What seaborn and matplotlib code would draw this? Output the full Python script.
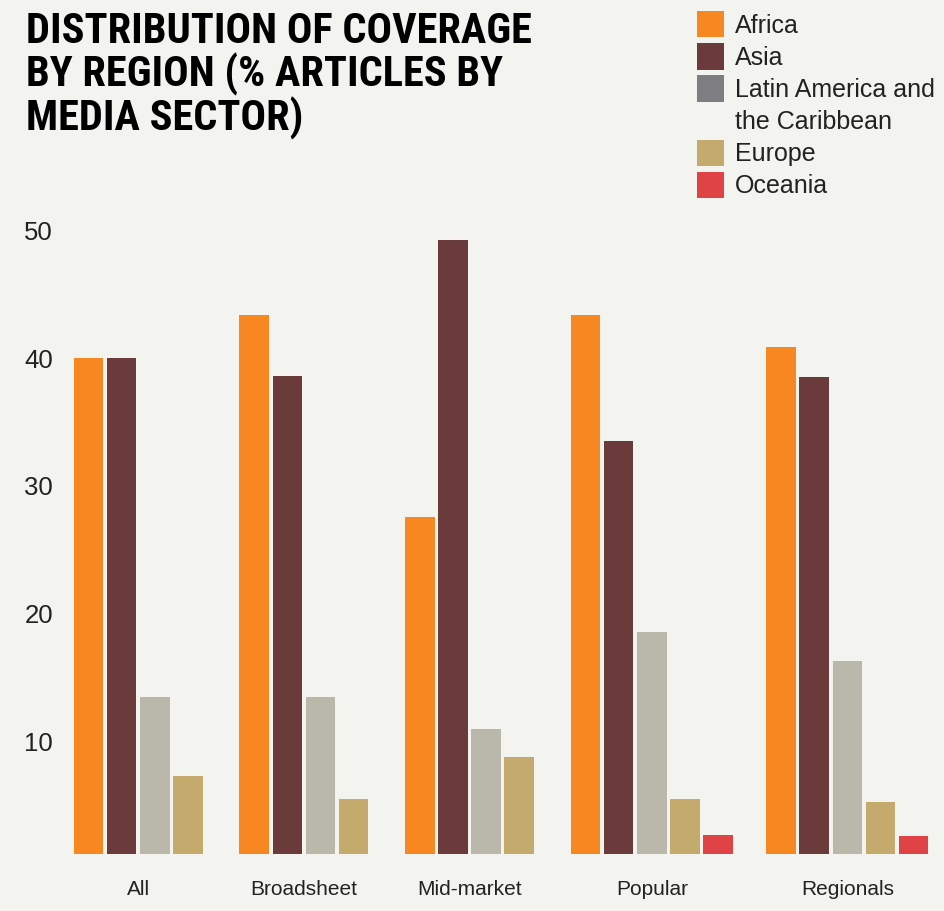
import numpy as np
import pandas as pd
import matplotlib
matplotlib.use("Agg")
import matplotlib.pyplot as plt
from matplotlib import font_manager
from matplotlib.patches import Patch
import seaborn as sns

# ---- data -------------------------------------------------------------
sectors = ["All", "Broadsheet", "Mid-market", "Popular", "Regionals"]
regions = ["Africa", "Asia", "Latin America and the Caribbean", "Europe", "Oceania"]
africa = [40.0, 43.4, 27.6, 43.4, 40.9]
asia = [40.0, 38.6, 49.2, 33.5, 38.5]
latin_america = [13.5, 13.5, 11.0, 18.6, 16.3]
europe = [7.3, 5.5, 8.8, 5.5, 5.3]
oceania = [0.0, 0.0, 0.0, 2.7, 2.6]
y_ticks = [10, 20, 30, 40, 50]
title = "DISTRIBUTION OF COVERAGE\nBY REGION (% ARTICLES BY\nMEDIA SECTOR)"
legend_labels = ["Africa", "Asia", "Latin America and", "the Caribbean", "Europe", "Oceania"]

# ---- styling ----------------------------------------------------------
BG = "#f3f3ef"
TEXT = "#222222"
bar_colors = ["#f68721", "#6b3a3a", "#bab7ab", "#c5aa6d", "#e04346"]
legend_colors = ["#f68721", "#6b3a3a", "#7e7e82", None, "#c5aa6d", "#e04346"]

sns.set_theme(style="white")
available = {f.name for f in font_manager.fontManager.ttflist}
body_font = "Liberation Sans" if "Liberation Sans" in available else "DejaVu Sans"
title_fonts = [f for f in ["Roboto Condensed", "Liberation Sans Narrow", "DejaVu Sans Condensed"]
               if f in available] + [body_font, "DejaVu Sans"]
plt.rcParams["font.family"] = [body_font, "DejaVu Sans"]

# ---- long table -------------------------------------------------------
series = [africa, asia, latin_america, europe, oceania]
df = pd.DataFrame({
    "sector": np.repeat(sectors, len(regions)),
    "region": regions * len(sectors),
    "value": np.array(series).T.ravel(),
})
# numeric group positions; the last group sits a little further right
group_x = np.arange(len(sectors), dtype=float)
group_x[-1] += 0.18
df["pos"] = df["sector"].map(dict(zip(sectors, group_x)))

W, H = 944, 911
fig = plt.figure(figsize=(W / 100, H / 100), dpi=100, facecolor=BG)
ax = fig.add_axes([60 / W, (H - 854) / H, 884 / W, (854 - 204.7) / H])
ax.set_facecolor(BG)

sns.barplot(
    data=df, x="pos", y="value", hue="region", hue_order=regions,
    palette=bar_colors, saturation=1, native_scale=True, width=1.0, gap=0.11,
    linewidth=0, legend=False, ax=ax,
)

ax.set_xlim(-0.572, 4.764)
ax.set_ylim(1.2, 52)
ax.set_yticks(y_ticks)
ax.set_yticklabels([str(t) for t in y_ticks], fontsize=18.5, color=TEXT)

# category labels centred under the bars that are drawn in each group
slot = 1.0 / len(regions)
centres = []
for gx, vals in zip(group_x, np.array(series).T):
    idx = np.nonzero(vals > 0)[0]
    centres.append(gx - 0.5 + slot * (idx.mean() + 0.5))
ax.set_xticks(centres)
ax.set_xticklabels(sectors, fontsize=15, color=TEXT)
ax.tick_params(axis="both", length=0)
ax.tick_params(axis="y", pad=5)
ax.tick_params(axis="x", pad=19)
ax.set_xlabel("")
ax.set_ylabel("")
sns.despine(ax=ax, left=True, bottom=True)
ax.grid(False)

fig.text(26 / W, 1 - 11 / H, title, ha="left", va="top",
         fontsize=30.5, fontweight="bold", family=title_fonts, color="#000000",
         linespacing=1.02)

handles = [Patch(facecolor=c, edgecolor="none") if c else Patch(facecolor="none", edgecolor="none")
           for c in legend_colors]
fig.legend(handles, legend_labels, loc="upper left", bbox_to_anchor=(697 / W, 1 - 11 / H),
           frameon=False, fontsize=18, handlelength=1.08, handleheight=1.25,
           handletextpad=0.44, labelspacing=0.22, borderpad=0, borderaxespad=0,
           labelcolor=TEXT)

fig.savefig("out.png", dpi=100, facecolor=BG)
